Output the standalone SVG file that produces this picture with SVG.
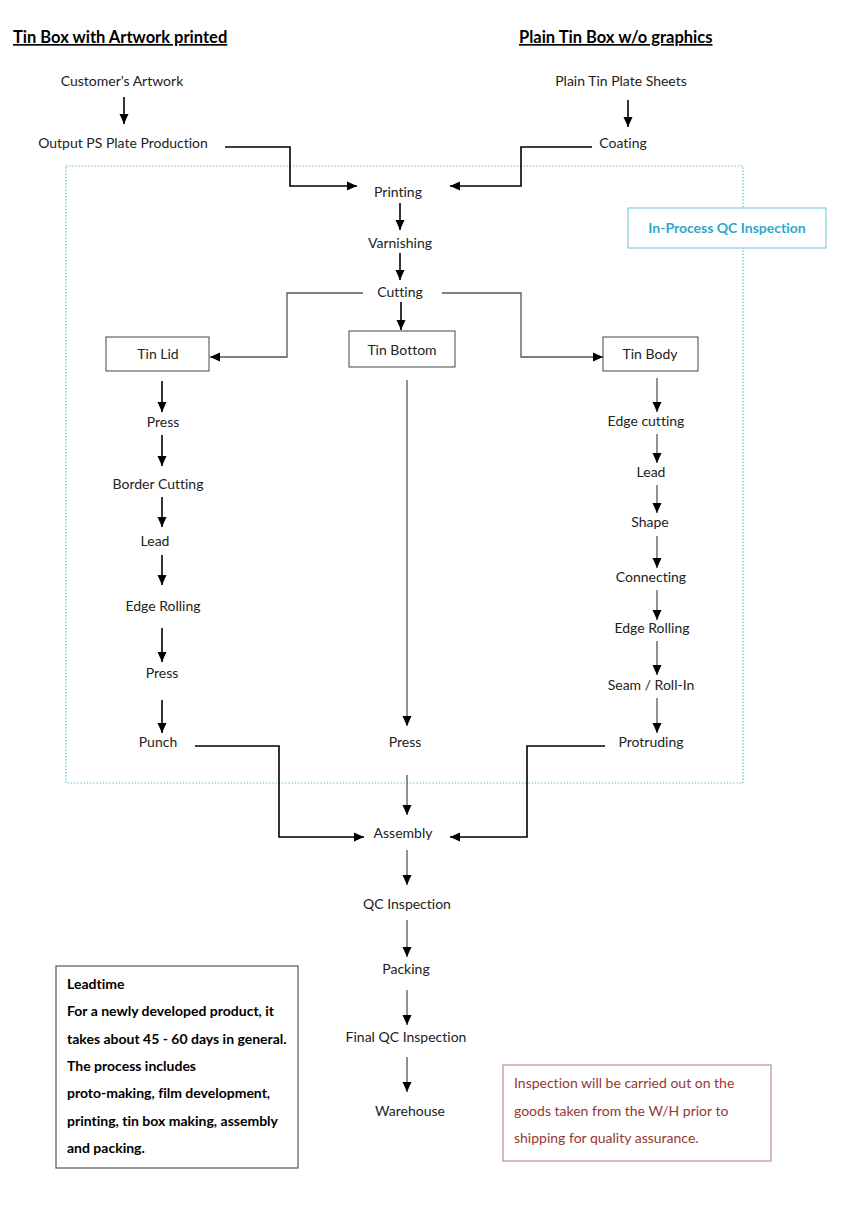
<svg xmlns="http://www.w3.org/2000/svg" width="848" height="1229" viewBox="0 0 848 1229">
<style>
text{font-family:Lato,"Liberation Sans",sans-serif;font-size:14px;fill:#222;font-variant-ligatures:none}
.c{text-anchor:middle}
.h{font-weight:bold;font-size:16.5px;text-decoration:underline;fill:#000}
.b{font-weight:bold;fill:#000}
.r{fill:#953735}
.q{font-weight:bold;fill:#31a6cf;text-anchor:middle}
.k{fill:none;stroke:#000;stroke-width:1.6}
.g{fill:none;stroke:#555;stroke-width:1.3}
.box{fill:#fff;stroke:#444;stroke-width:1}
</style>
<defs>
<marker id="a" markerUnits="userSpaceOnUse" markerWidth="10" markerHeight="10" viewBox="0 0 10 10" refX="10" refY="5" orient="auto"><path d="M0,0.5L10,5L0,9.5z" fill="#000"/></marker>
</defs>
<rect width="848" height="1229" fill="#fff"/>
<rect x="66" y="166" width="677" height="617" fill="none" stroke="#4bacc6" stroke-width="1.2" stroke-dasharray="1.2 2"/>
<text class="h" x="13" y="43">Tin Box with Artwork printed</text>
<text class="h" x="519" y="43">Plain Tin Box w/o graphics</text>
<g id="connectors">
<path class="k" d="M124,97V124" marker-end="url(#a)"/>
<path class="k" d="M628,100V127" marker-end="url(#a)"/>
<path class="k" d="M225,147H290V186H357" marker-end="url(#a)"/>
<path class="k" d="M592,147H521V186H450" marker-end="url(#a)"/>
<path class="k" d="M400,203V230" marker-end="url(#a)"/>
<path class="k" d="M400,253V280" marker-end="url(#a)"/>
<path class="k" d="M401,302V330" marker-end="url(#a)"/>
<path class="g" d="M363,293H287V357H210" marker-end="url(#a)"/>
<path class="g" d="M442,293H521V357H603" marker-end="url(#a)"/>
<path class="k" d="M162,381V412" marker-end="url(#a)"/>
<path class="k" d="M162,435V466" marker-end="url(#a)"/>
<path class="k" d="M162,497V527" marker-end="url(#a)"/>
<path class="k" d="M162,555V585" marker-end="url(#a)"/>
<path class="k" d="M162,628V662" marker-end="url(#a)"/>
<path class="k" d="M162,700V733" marker-end="url(#a)"/>
<path class="g" d="M657,378V412" marker-end="url(#a)"/>
<path class="g" d="M657,434V463" marker-end="url(#a)"/>
<path class="g" d="M657,485V513" marker-end="url(#a)"/>
<path class="g" d="M657,536V568" marker-end="url(#a)"/>
<path class="g" d="M657,590V620" marker-end="url(#a)"/>
<path class="g" d="M657,641V675" marker-end="url(#a)"/>
<path class="g" d="M657,698V733" marker-end="url(#a)"/>
<path class="g" d="M407,380V726" marker-end="url(#a)"/>
<path class="g" d="M407,775V815" marker-end="url(#a)"/>
<path class="k" d="M195,746H279V837H364" marker-end="url(#a)"/>
<path class="k" d="M605,746H527V837H450" marker-end="url(#a)"/>
<path class="g" d="M407,850V885" marker-end="url(#a)"/>
<path class="g" d="M407,920V957" marker-end="url(#a)"/>
<path class="g" d="M407,990V1025" marker-end="url(#a)"/>
<path class="g" d="M407,1057V1092" marker-end="url(#a)"/>
</g>
<g id="customer-artwork"><text class="c" x="122" y="86">Customer’s Artwork</text></g>
<g id="output-ps"><text class="c" x="123" y="148">Output PS Plate Production</text></g>
<g id="plain-sheets"><text class="c" x="621" y="86">Plain Tin Plate Sheets</text></g>
<g id="coating"><text class="c" x="623" y="148">Coating</text></g>
<g id="printing"><text class="c" x="398" y="197">Printing</text></g>
<g id="varnishing"><text class="c" x="400" y="248">Varnishing</text></g>
<g id="cutting"><text class="c" x="400" y="297">Cutting</text></g>
<g id="inprocess-qc"><rect x="628" y="208" width="198" height="40" fill="#fff" stroke="#8fd0e2" stroke-width="1.3"/><text class="q" x="727" y="233">In-Process QC Inspection</text></g>
<g id="tin-lid"><rect class="box" x="106" y="337" width="103" height="34"/><text class="c" x="158" y="359">Tin Lid</text></g>
<g id="tin-bottom"><rect class="box" x="349" y="331" width="106" height="36"/><text class="c" x="402" y="355">Tin Bottom</text></g>
<g id="tin-body"><rect class="box" x="603" y="337" width="95" height="34"/><text class="c" x="650" y="359">Tin Body</text></g>
<g id="lid-press1"><text class="c" x="163" y="427">Press</text></g>
<g id="border-cutting"><text class="c" x="158" y="489">Border Cutting</text></g>
<g id="lid-lead"><text class="c" x="155" y="546">Lead</text></g>
<g id="lid-edge-rolling"><text class="c" x="163" y="611">Edge Rolling</text></g>
<g id="lid-press2"><text class="c" x="162" y="678">Press</text></g>
<g id="punch"><text class="c" x="158" y="747">Punch</text></g>
<g id="edge-cutting"><text class="c" x="646" y="426">Edge cutting</text></g>
<g id="body-lead"><text class="c" x="651" y="477">Lead</text></g>
<g id="shape"><text class="c" x="650" y="527">Shape</text></g>
<g id="connecting"><text class="c" x="651" y="582">Connecting</text></g>
<g id="body-edge-rolling"><text class="c" x="652" y="633">Edge Rolling</text></g>
<g id="seam"><text class="c" x="651" y="690">Seam / Roll-In</text></g>
<g id="protruding"><text class="c" x="651" y="747">Protruding</text></g>
<g id="bottom-press"><text class="c" x="405" y="747">Press</text></g>
<g id="assembly"><text class="c" x="403" y="838">Assembly</text></g>
<g id="qc-inspection"><text class="c" x="407" y="909">QC Inspection</text></g>
<g id="packing"><text class="c" x="406" y="974">Packing</text></g>
<g id="final-qc"><text class="c" x="406" y="1042">Final QC Inspection</text></g>
<g id="warehouse"><text class="c" x="410" y="1116">Warehouse</text></g>
<g id="leadtime-note"><rect x="56" y="966" width="242" height="202" fill="#fff" stroke="#555" stroke-width="1.2"/>
<text class="b" x="67" y="989">Leadtime</text>
<text class="b" x="67" y="1016">For a newly developed product, it</text>
<text class="b" x="67" y="1044">takes about 45 - 60 days in general.</text>
<text class="b" x="67" y="1071">The process includes</text>
<text class="b" x="67" y="1098">proto-making, film development,</text>
<text class="b" x="67" y="1126">printing, tin box making, assembly</text>
<text class="b" x="67" y="1153">and packing.</text></g>
<g id="inspection-note"><rect x="503" y="1065" width="268" height="96" fill="#fff" stroke="#b99292" stroke-width="1.2"/>
<text class="r" x="514" y="1088">Inspection will be carried out on the</text>
<text class="r" x="514" y="1116">goods taken from the W/H prior to</text>
<text class="r" x="514" y="1143">shipping for quality assurance.</text></g>
</svg>
